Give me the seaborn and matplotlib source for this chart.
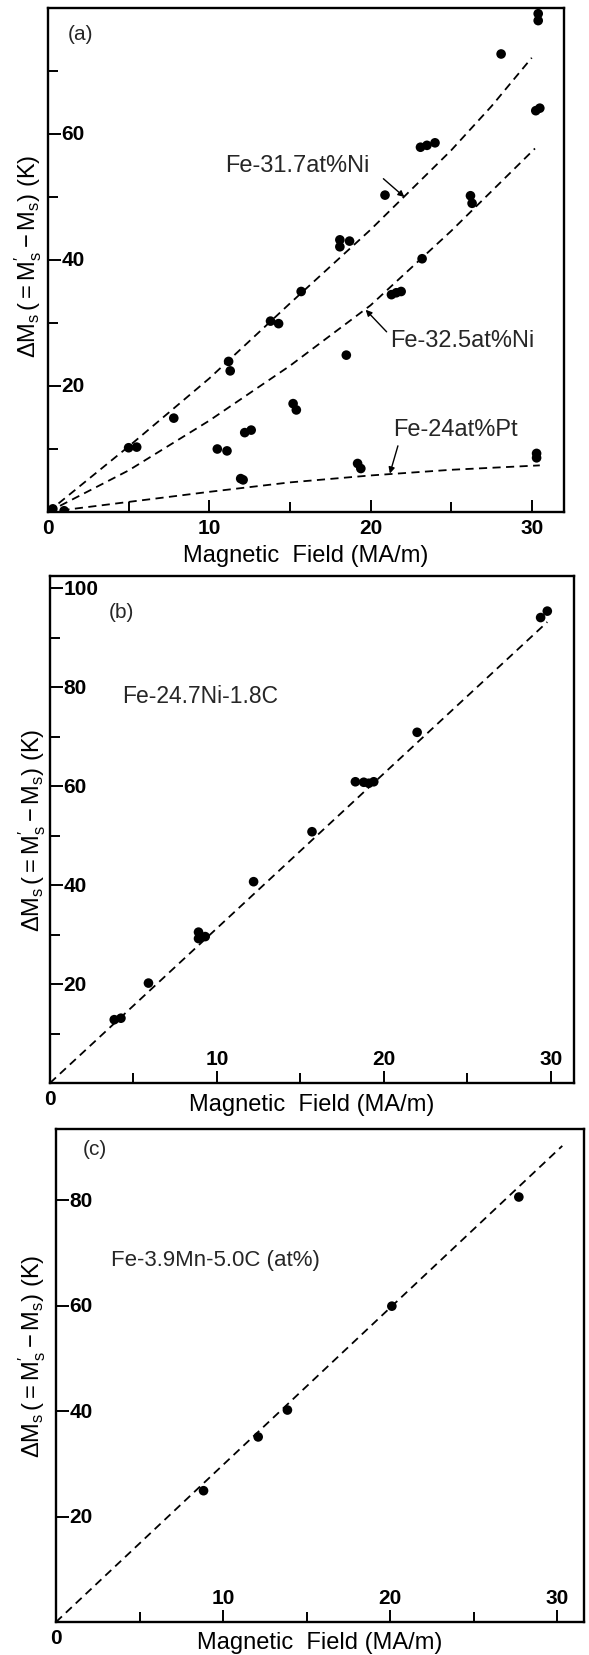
import numpy as np
import pandas as pd
import matplotlib
matplotlib.use("Agg")
import matplotlib.pyplot as plt
import seaborn as sns

# ---------------- data ----------------
# (a) measured shifts for the three alloys
ni317_field = [5.0, 5.5, 7.8, 11.2, 11.3, 13.8, 14.3, 15.7, 18.1, 18.1, 18.7,
               20.9, 23.1, 23.5, 24.0, 28.1, 30.4, 30.4]
ni317_shift = [10.2, 10.3, 14.9, 23.9, 22.4, 30.3, 29.9, 35.0, 43.2, 42.1, 43.0,
               50.3, 57.9, 58.2, 58.6, 72.7, 79.1, 78.0]

ni325_field = [0.3, 10.5, 11.1, 12.2, 12.6, 15.2, 15.4, 18.5, 21.3, 21.6, 21.9,
               23.2, 26.2, 26.3, 30.25, 30.5]
ni325_shift = [0.5, 10.0, 9.7, 12.6, 13.0, 17.2, 16.2, 24.9, 34.5, 34.8, 35.0,
               40.2, 50.2, 49.0, 63.7, 64.1]

pt24_field = [1.0, 11.95, 12.1, 19.2, 19.4, 30.3, 30.3]
pt24_shift = [0.2, 5.3, 5.1, 7.7, 6.9, 9.3, 8.6]

# (a) calculated curves
ni317_curve_field = [0, 5, 10, 15, 20, 25, 27.5, 30.0]
ni317_curve_shift = [0, 10.4, 21.2, 33.1, 44.8, 57.4, 64.4, 72.1]
ni325_curve_field = [0, 5, 10, 15, 20, 25, 30.2]
ni325_curve_shift = [0, 6.6, 14.5, 23.2, 32.8, 44.6, 57.7]
pt24_curve_field = [0, 5, 10, 15, 20, 25, 30.5]
pt24_curve_shift = [0, 1.6, 3.2, 4.7, 5.8, 6.7, 7.4]

# (b) Fe-24.7Ni-1.8C
b_field = [3.85, 4.25, 5.9, 8.9, 8.9, 9.3, 12.2, 15.7, 18.3, 18.8, 19.1, 19.4,
           22.0, 29.4, 29.8]
b_shift = [12.8, 13.1, 20.2, 30.5, 29.2, 29.6, 40.7, 50.8, 60.9, 60.8, 60.6,
           60.9, 70.9, 94.1, 95.4]
b_line_field = [0, 29.8]
b_line_shift = [0, 93.2]

# (c) Fe-3.9Mn-5.0C
c_field = [8.83, 12.1, 13.85, 20.1, 27.7]
c_shift = [24.9, 35.1, 40.2, 59.9, 80.6]
c_line_field = [0, 30.3]
c_line_shift = [0, 90.3]

# ---------------- style ----------------
sns.set_theme(style="ticks")
plt.rcParams["font.family"] = ["Liberation Sans", "DejaVu Sans"]
plt.rcParams["mathtext.fontset"] = "custom"
plt.rcParams["mathtext.rm"] = "Liberation Sans"
plt.rcParams["mathtext.it"] = "Liberation Sans:italic"
plt.rcParams["mathtext.bf"] = "Liberation Sans:bold"

W, H = 589, 1656
fig = plt.figure(figsize=(W / 100, H / 100), dpi=100)
fig.patch.set_facecolor("white")


def axes_at(left, top, right, bottom):
    return fig.add_axes([left / W, 1 - bottom / H, (right - left) / W, (bottom - top) / H])


ax_a = axes_at(48, 9, 564, 513)
ax_b = axes_at(50, 577, 574, 1084)
ax_c = axes_at(56, 1130, 584, 1623)

DASH = (0, (4.5, 3.0))
TICK_FS = 15
YLABEL = r"$\Delta\mathrm{M_s}\,(=\mathrm{M_s^{\prime}}-\mathrm{M_s})\ (\mathrm{K})$"
XLABEL = "Magnetic  Field (MA/m)"


def dots(ax, x, y):
    sns.scatterplot(x=x, y=y, ax=ax, color="black", s=48, edgecolor="none",
                    linewidth=0, legend=False, zorder=3)


def dashed(ax, x, y):
    sns.lineplot(x=x, y=y, ax=ax, color="black", lw=1.3, linestyle=DASH,
                 sort=False, legend=False, zorder=2)


def frame(ax, xlim, ylim, yticks, yminor, xlabels_inside, ylab_x, xlab_y, ylab_y=0.5):
    ax.set_facecolor("white")
    ax.set_xlim(*xlim)
    ax.set_ylim(*ylim)
    for sp in ax.spines.values():
        sp.set_visible(True)
        sp.set_linewidth(1.7)
        sp.set_color("black")
    ax.set_yticks(yticks)
    ax.set_yticklabels([str(v) for v in yticks])
    ax.set_yticks(yminor, minor=True)
    if xlabels_inside:
        ax.set_xticks([10, 20, 30])
        ax.set_xticklabels(["10", "20", "30"])
    else:
        ax.set_xticks([0, 10, 20, 30])
        ax.set_xticklabels(["0", "10", "20", "30"])
    ax.set_xticks([5, 15, 25], minor=True)
    ax.tick_params(which="both", direction="in", color="black", width=1.4,
                   top=False, right=False, labelsize=TICK_FS, labelcolor="black")
    ax.tick_params(axis="y", which="major", length=9, pad=-9.5)
    ax.tick_params(axis="y", which="minor", length=7)
    ax.tick_params(axis="x", which="major", length=9,
                   pad=-11 if xlabels_inside else 4)
    ax.tick_params(axis="x", which="minor", length=7)
    for lbl in ax.get_yticklabels():
        lbl.set_horizontalalignment("left")
        lbl.set_verticalalignment("center")
        lbl.set_fontweight("bold")
    for lbl in ax.get_xticklabels():
        lbl.set_fontweight("bold")
        if xlabels_inside:
            lbl.set_verticalalignment("bottom")
    if xlabels_inside:
        ax.annotate("0", xy=(0, 0), xycoords="data", xytext=(0, -4),
                    textcoords="offset points", ha="center", va="top",
                    fontsize=TICK_FS, fontweight="bold", color="black",
                    annotation_clip=False)
    ax.set_xlabel(XLABEL, fontsize=17, color="black")
    ax.set_ylabel(YLABEL, fontsize=17, color="black")
    ax.xaxis.label.set_va("center")
    ax.yaxis.label.set_va("center")
    ax.xaxis.set_label_coords(0.5, xlab_y)
    ax.yaxis.set_label_coords(ylab_x, ylab_y)
    ax.grid(False)


# ---------------- (a) ----------------
dashed(ax_a, ni317_curve_field, ni317_curve_shift)
dashed(ax_a, ni325_curve_field, ni325_curve_shift)
dashed(ax_a, pt24_curve_field, pt24_curve_shift)
dots(ax_a, ni317_field, ni317_shift)
dots(ax_a, ni325_field, ni325_shift)
dots(ax_a, pt24_field, pt24_shift)
frame(ax_a, (0, 32.0), (0, 80), [20, 40, 60], [10, 30, 50, 70], False,
      -0.039, -0.085, ylab_y=0.51)
ax_a.text(1.2, 76, "(a)", fontsize=15, ha="left", va="center")

arrow = dict(arrowstyle="-|>", color="black", lw=1.0, mutation_scale=9,
             shrinkA=0, shrinkB=0)
ax_a.text(11.0, 55.0, "Fe-31.7at%Ni", fontsize=17, ha="left", va="center")
ax_a.annotate("", xy=(22.1, 50.0), xytext=(20.8, 52.9), arrowprops=arrow)
ax_a.text(21.2, 27.3, "Fe-32.5at%Ni", fontsize=17, ha="left", va="center")
ax_a.annotate("", xy=(19.7, 32.1), xytext=(21.0, 28.6), arrowprops=arrow)
ax_a.text(21.4, 13.2, "Fe-24at%Pt", fontsize=17, ha="left", va="center")
ax_a.annotate("", xy=(21.2, 6.1), xytext=(21.7, 10.5), arrowprops=arrow)

# ---------------- (b) ----------------
dashed(ax_b, b_line_field, b_line_shift)
dots(ax_b, b_field, b_shift)
frame(ax_b, (0, 31.4), (0, 102.5), [20, 40, 60, 80, 100], [10, 30, 50, 70, 90],
      True, -0.034, -0.041)
ax_b.text(3.5, 95.4, "(b)", fontsize=15, ha="left", va="center")
ax_b.text(4.3, 78.3, "Fe-24.7Ni-1.8C", fontsize=16.5, ha="left", va="center")

# ---------------- (c) ----------------
dashed(ax_c, c_line_field, c_line_shift)
dots(ax_c, c_field, c_shift)
frame(ax_c, (0, 31.6), (0, 93.5), [20, 40, 60, 80], [], True, -0.045, -0.041,
      ylab_y=0.54)
ax_c.text(1.6, 89.8, "(c)", fontsize=15, ha="left", va="center")
ax_c.text(3.3, 68.7, "Fe-3.9Mn-5.0C (at%)", fontsize=16, ha="left", va="center")

fig.savefig("out.png", dpi=100, facecolor="white")
